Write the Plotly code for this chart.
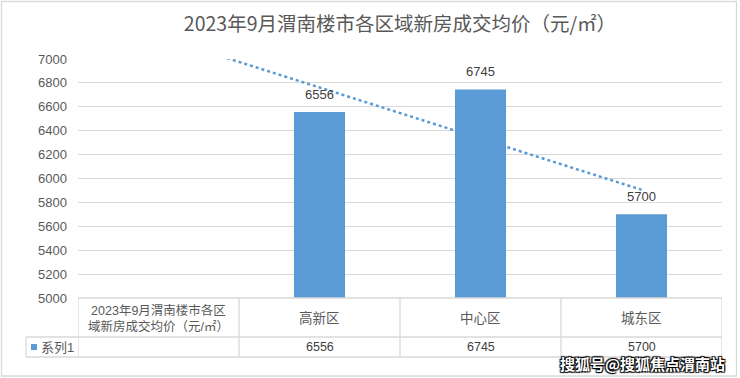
import numpy as np
import plotly.graph_objects as go

title = "2023年9月渭南楼市各区域新房成交均价（元/㎡）"
categories = ["2023年9月渭南楼市各区域新房成交均价（元/㎡）", "高新区", "中心区", "城东区"]
header_first = "2023年9月渭南楼市各区<br>域新房成交均价（元/㎡）"
values = [None, 6556, 6745, 5700]
series_name = "系列1"
y_ticks = [5000, 5200, 5400, 5600, 5800, 6000, 6200, 6400, 6600, 6800, 7000]

BLUE = "#5B9BD5"
GRID = "#D9D9D9"
TXT = "#595959"
FONT = "Liberation Sans, Noto Sans CJK SC, sans-serif"

W, H = 740, 378
L, R, T, B = 78, 722, 59, 298

def px(x):
    return (x - L) / (R - L)

def py(y):
    return (B - y) / (B - T)

idx = np.arange(len(categories))
known = [(i, v) for i, v in enumerate(values) if v is not None]
ki = np.array([k[0] for k in known], dtype=float)
kv = np.array([k[1] for k in known], dtype=float)
coef = np.polyfit(ki, kv, 1)
trend = np.polyval(coef, idx)

fig = go.Figure()
fig.add_trace(go.Bar(x=idx, y=values, marker=dict(color=BLUE, line=dict(width=0)),
                     width=0.317, name=series_name, hoverinfo="y"))
fig.add_trace(go.Scatter(x=idx, y=trend, mode="lines",
                         line=dict(color=BLUE, width=2.5, dash="dot"), hoverinfo="skip"))

ann = []
for i, v in enumerate(values):
    if v is None:
        continue
    ann.append(dict(x=i, y=v, xref="x", yref="y", text=str(v), showarrow=False,
                    xanchor="center", yanchor="bottom", yshift=8,
                    font=dict(size=13, color="#404040", family=FONT)))

# table text
ann.append(dict(x=0, y=py(318), xref="x", yref="paper", text=header_first, showarrow=False,
                xanchor="center", yanchor="middle",
                font=dict(size=12.5, color=TXT, family=FONT), align="center"))
for i in range(1, len(categories)):
    ann.append(dict(x=i, y=py(318), xref="x", yref="paper", text=categories[i], showarrow=False,
                    xanchor="center", yanchor="middle",
                    font=dict(size=13.5, color=TXT, family=FONT)))
    ann.append(dict(x=i, y=py(347), xref="x", yref="paper", text=str(values[i]), showarrow=False,
                    xanchor="center", yanchor="middle",
                    font=dict(size=12.5, color="#404040", family=FONT)))
ann.append(dict(x=px(39), y=py(347), xref="paper", yref="paper", text=series_name, showarrow=False,
                xanchor="left", yanchor="middle", font=dict(size=13, color=TXT, family=FONT)))
# watermark
ann.append(dict(x=px(642), y=py(363), xref="paper", yref="paper", text="<b>搜狐号@搜狐焦点渭南站</b>",
                showarrow=False, xanchor="center", yanchor="middle",
                font=dict(size=15, color="white", family="Noto Sans CJK SC",
                          shadow="1px 1px 1px #000, -1px -1px 1px #000, 1px -1px 1px #000, -1px 1px 1px #000")))

shapes = []
def line(x0, y0, x1, y1, xref="paper"):
    shapes.append(dict(type="line", xref=xref, yref="paper", x0=x0, y0=y0, x1=x1, y1=y1,
                       line=dict(color=GRID, width=1.3), layer="above"))

# horizontal table lines
line(px(L), py(B), px(R), py(B))
line(px(26), py(337), px(R), py(337))
line(px(26), py(357), px(R), py(357))
# vertical table lines
line(px(26), py(337), px(26), py(357))
for xb in [-0.5, 0.5, 1.5, 2.5, 3.5]:
    shapes.append(dict(type="line", xref="x", yref="paper", x0=xb, x1=xb, y0=py(B), y1=py(357),
                       line=dict(color=GRID, width=1.3), layer="above"))
# legend key
shapes.append(dict(type="rect", xref="paper", yref="paper", x0=px(31), x1=px(37), y0=py(344), y1=py(350),
                   fillcolor=BLUE, line=dict(width=0)))
# outer border
shapes.append(dict(type="rect", xref="paper", yref="paper", x0=px(1.5), x1=px(736.5), y0=py(1.5), y1=py(376),
                   line=dict(color=GRID, width=1.3), fillcolor="rgba(0,0,0,0)"))

fig.update_layout(
    width=W, height=H, margin=dict(l=L, r=W - R, t=T, b=H - B),
    paper_bgcolor="white", plot_bgcolor="white", showlegend=False,
    title=dict(text=title, x=0.5, xref="paper", xanchor="center", y=1 - 24 / H, yanchor="middle",
               font=dict(size=19.5, color=TXT, family="Noto Sans CJK SC")),
    xaxis=dict(range=[-0.5, 3.5], showticklabels=False, showgrid=False, zeroline=False,
               showline=False, ticks="", fixedrange=True),
    yaxis=dict(range=[5000, 7000], tickvals=y_ticks, showgrid=True, gridcolor=GRID, gridwidth=1.3,
               zeroline=False, showline=False, ticks="", ticklabelstandoff=10,
               tickfont=dict(size=13, color=TXT, family=FONT), fixedrange=True),
    annotations=ann, shapes=shapes, bargap=0.6,
)

fig.write_html("out.html")
